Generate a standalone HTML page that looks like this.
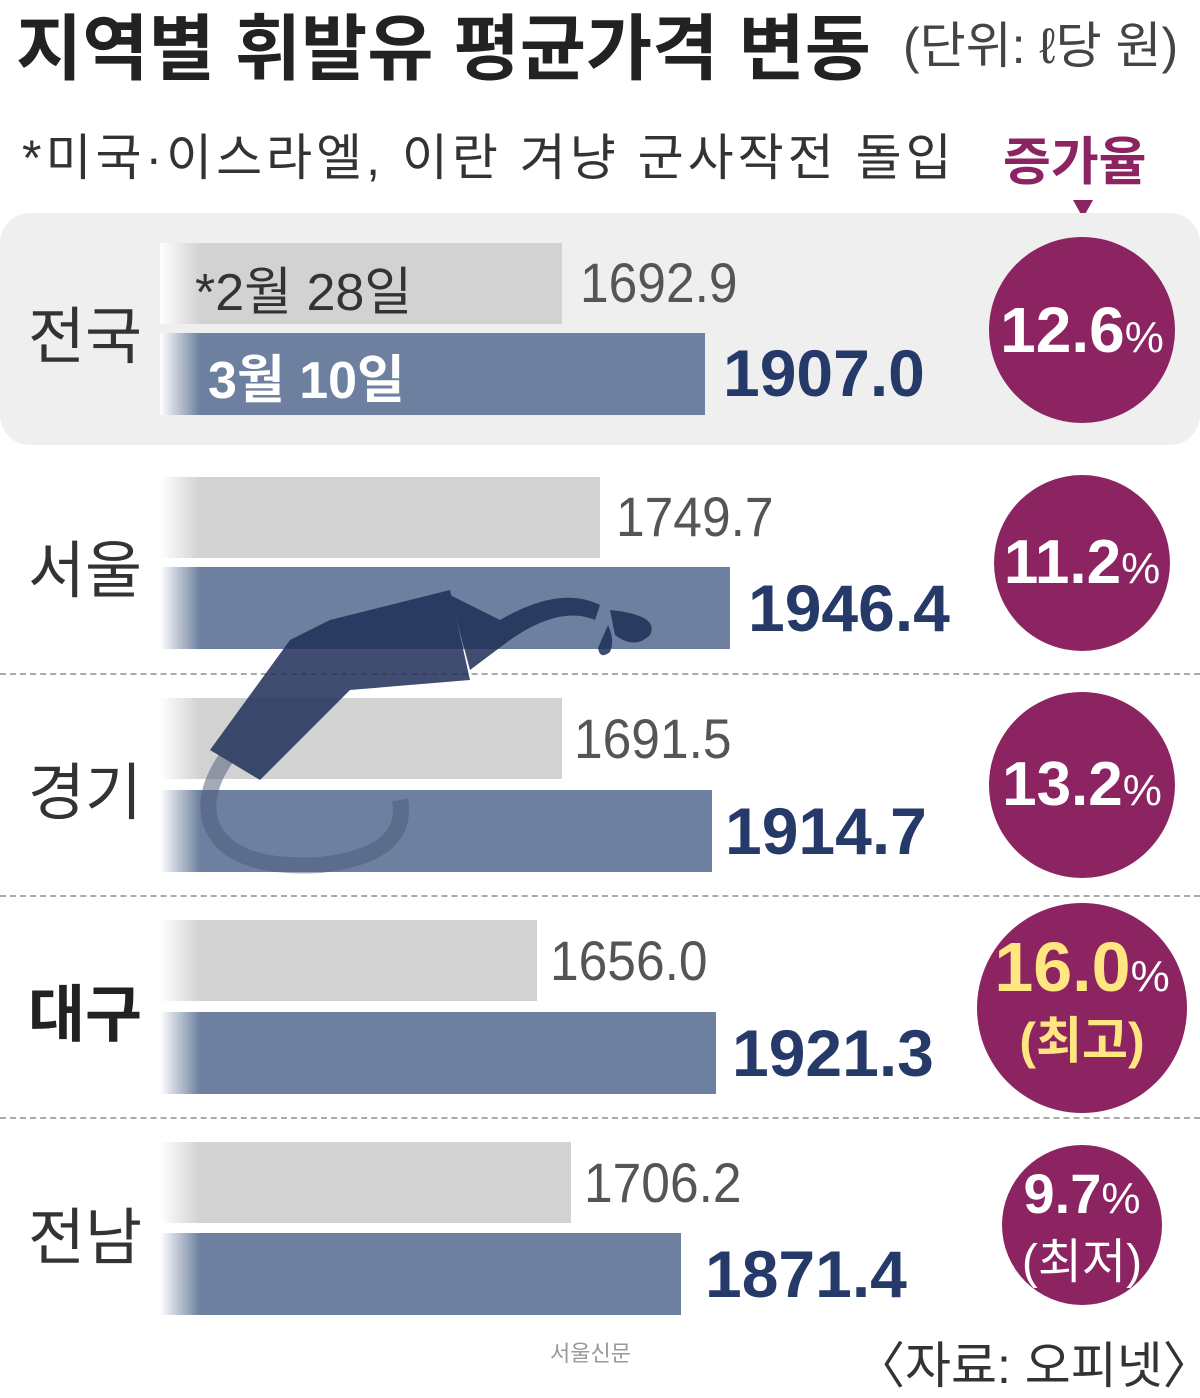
<!DOCTYPE html>
<html><head><meta charset="utf-8"><style>
body{margin:0;width:1200px;height:1391px;background:#fff;position:relative;overflow:hidden;font-family:"Liberation Sans","Noto Sans CJK KR",sans-serif;color:#2a2a2a}
.a{position:absolute;white-space:nowrap}
.g{position:absolute;left:160px;height:81px;background:linear-gradient(90deg,#fff 0,#d2d2d2 40px,#d2d2d2 100%)}
.b{position:absolute;left:160px;height:82px;background:linear-gradient(90deg,#fff 0,#6d809f 40px,#6d809f 100%)}
.gv{position:absolute;font-size:56px;color:#555;transform:scaleX(.92);transform-origin:left}
.bv{position:absolute;font-size:66px;font-weight:bold;color:#263a6a;transform:scaleX(1.0);transform-origin:left}
.lab{position:absolute;left:28px;font-size:62px;color:#333}
.c{position:absolute;border-radius:50%;background:#8c2462;color:#fff;text-align:center;font-weight:bold}
.c span{font-size:44px;font-weight:normal}
.d{position:absolute;left:0;width:1200px;border-top:2px dashed #aaa}
</style></head><body>
<div class="a" style="left:16px;top:-10px;font-size:72px;font-weight:bold;color:#222">지역별 휘발유 평균가격 변동</div>
<div class="a" style="left:903px;top:6px;font-size:50px;color:#444">(단위: ℓ당 원)</div>
<div class="a" style="left:22px;top:118px;font-size:50px;letter-spacing:4px;color:#333">*미국·이스라엘, 이란 겨냥 군사작전 돌입</div>
<div class="a" style="left:1003px;top:120px;font-size:52px;font-weight:bold;color:#8c2462">증가율</div>
<div class="a" style="left:1073px;top:200px;width:0;height:0;border-left:10px solid transparent;border-right:10px solid transparent;border-top:18px solid #8c2462"></div>
<div class="a" style="left:0;top:213px;width:1200px;height:232px;background:#efefef;border-radius:30px"></div>

<div class="g" style="top:243px;width:402px"></div>
<div class="b" style="top:333px;width:545px"></div>
<div class="a" style="left:195px;top:250px;font-size:52px;color:#333">*2월 28일</div>
<div class="a" style="left:208px;top:338px;font-size:52px;color:#fff;font-weight:bold">3월 10일</div>
<div class="lab" style="top:286px">전국</div>
<div class="gv" style="left:580px;top:250px">1692.9</div>
<div class="bv" style="left:723px;top:335px">1907.0</div>
<div class="c" style="left:989px;top:237px;width:186px;height:186px;line-height:186px;font-size:64px">12.6<span>%</span></div>

<div class="g" style="top:477px;width:440px"></div>
<div class="b" style="top:567px;width:570px"></div>
<div class="lab" style="top:520px">서울</div>
<div class="gv" style="left:616px;top:484px">1749.7</div>
<div class="bv" style="left:748px;top:570px">1946.4</div>
<div class="c" style="left:994px;top:475px;width:176px;height:176px;line-height:176px;font-size:62px">11.2<span>%</span></div>

<div class="d" style="top:673px"></div>
<div class="g" style="top:698px;width:402px"></div>
<div class="b" style="top:790px;width:552px"></div>
<div class="lab" style="top:742px">경기</div>
<div class="gv" style="left:574px;top:706px">1691.5</div>
<div class="bv" style="left:725px;top:793px">1914.7</div>
<div class="c" style="left:989px;top:692px;width:186px;height:186px;line-height:186px;font-size:62px">13.2<span>%</span></div>

<div class="d" style="top:895px"></div>
<div class="g" style="top:920px;width:377px"></div>
<div class="b" style="top:1012px;width:556px"></div>
<div class="lab" style="top:964px;font-weight:bold;color:#222">대구</div>
<div class="gv" style="left:550px;top:928px">1656.0</div>
<div class="bv" style="left:732px;top:1015px">1921.3</div>
<div class="c" style="left:977px;top:903px;width:210px;height:210px;line-height:normal">
<div style="margin-top:24px;font-size:70px;color:#ffe680">16.0<span style="color:#fff">%</span></div>
<div style="font-size:50px;color:#ffe680;margin-top:-6px">(최고)</div></div>

<div class="d" style="top:1117px"></div>
<div class="g" style="top:1142px;width:411px"></div>
<div class="b" style="top:1233px;width:521px"></div>
<div class="lab" style="top:1187px">전남</div>
<div class="gv" style="left:584px;top:1150px">1706.2</div>
<div class="bv" style="left:705px;top:1236px">1871.4</div>
<div class="c" style="left:1002px;top:1145px;width:160px;height:160px;line-height:normal">
<div style="margin-top:16px;font-size:56px">9.7<span>%</span></div>
<div style="font-size:48px;font-weight:normal;margin-top:-4px">(최저)</div></div>

<svg class="a" style="left:170px;top:580px;opacity:.85" width="500" height="300" viewBox="0 0 500 300">
<path d="M80 150 Q30 200 40 240 Q55 290 150 285 Q240 275 230 220" fill="none" stroke="#4b5a7a" stroke-width="16" opacity=".6"/>
<path d="M40 170 L120 60 L160 40 L280 10 L300 100 L180 110 L90 200 Z" fill="#1f2f58"/>
<path d="M280 15 L330 40 Q390 5 430 25 L425 40 Q390 25 340 60 L300 90 Z" fill="#1f2f58"/>
<path d="M440 30 Q490 35 480 55 Q465 70 445 55 Z" fill="#1f2f58"/>
<path d="M438 45 Q445 60 440 72 Q430 80 428 68 Z" fill="#1f2f58"/>
</svg>

<div class="a" style="left:550px;top:1336px;font-size:22px;color:#999">서울신문</div>
<div class="a" style="left:855px;top:1326px;font-size:50px;color:#333">〈자료: 오피넷〉</div>
</body></html>
